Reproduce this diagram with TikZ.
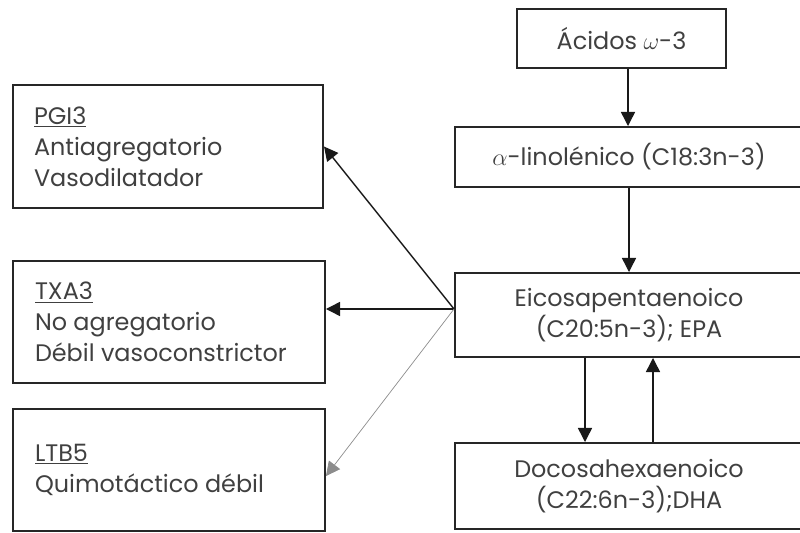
\documentclass[tikz,border=0pt]{standalone}
\usepackage{fontspec}
\setmainfont{Poppins}
\usetikzlibrary{arrows.meta}
\tikzset{
  caja/.style={draw=black!85, line width=1.4pt, text=black!75, inner sep=0pt,
    font=\fontsize{17}{22}\selectfont},
  lado/.style={caja, minimum width=7.8cm, minimum height=3.05cm, text width=6.7cm, align=flush left},
  flecha/.style={line width=1pt, draw=black!90, -{Triangle[length=10pt,width=10pt]}},
}
\begin{document}
\begin{tikzpicture}
\useasboundingbox (0,0) rectangle (20,13.3);
% cadena de los acidos omega-3
\node[caja, minimum width=5.225cm, minimum height=1.475cm] (acidos) at (15.54,12.34) {Ácidos $\omega$-3};
\node[caja, minimum width=8.7cm, minimum height=1.5cm] (alfa) at (15.725,9.375) {$\alpha$-linolénico (C18:3n-3)};
\node[caja, minimum width=8.7cm, minimum height=2.1cm, align=center] (epa) at (15.725,5.425) {Eicosapentaenoico\\(C20:5n-3); EPA};
\node[caja, minimum width=8.7cm, minimum height=2.15cm, align=center] (dha) at (15.725,1.15) {Docosahexaenoico\\(C22:6n-3);DHA};
% eicosanoides
\node[lado, minimum width=7.75cm, minimum height=3.075cm] (pgi) at (4.2,9.6375) {\underline{PGI3}\\Antiagregatorio\\Vasodilatador};
\node[lado] (txa) at (4.225,5.25) {\underline{TXA3}\\No agregatorio\\Débil vasoconstrictor};
\node[lado] (ltb) at (4.225,1.55) {\underline{LTB5}\\Quimotáctico débil};
\coordinate (src) at ([yshift=0.15cm]epa.west);
% flechas
\draw[flecha] ([xshift=0.16cm]acidos.south) -- ([xshift=0.16cm]acidos.south |- alfa.north);
\draw[flecha] (alfa.south) -- (epa.north);
\draw[flecha] ([xshift=-1.1cm]epa.south) -- ([xshift=-1.1cm]dha.north);
\draw[flecha] ([xshift=0.6cm]dha.north) -- ([xshift=0.6cm]epa.south);
\draw[flecha] (src) -- (pgi.east);
\draw[flecha] (src) -- (src -| txa.east);
\draw[flecha, line width=0.5pt, draw=black!45] (src) -- ([yshift=-0.15cm]ltb.east);
\end{tikzpicture}
\end{document}
